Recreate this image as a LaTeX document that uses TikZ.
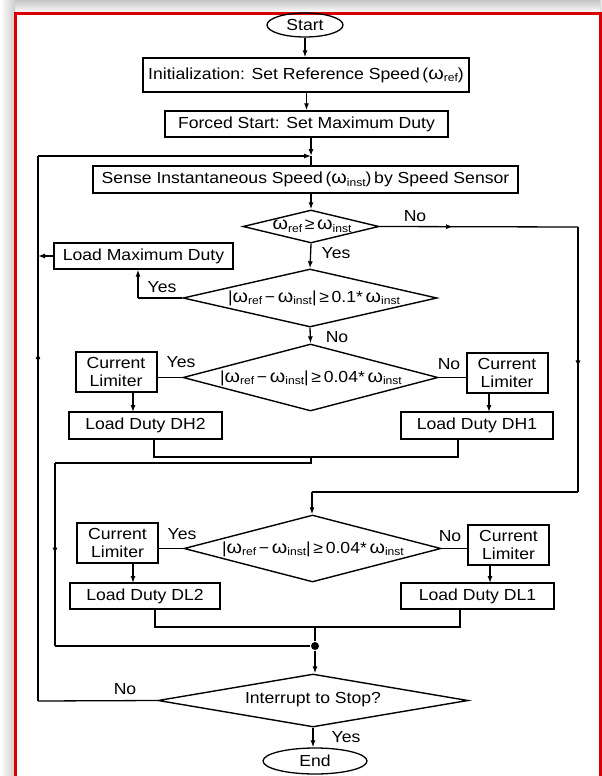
\documentclass[tikz,border=0pt]{standalone}
\usepackage{fontspec}
\setmainfont{Liberation Sans}[FakeStretch=1.1]
\usetikzlibrary{shapes.geometric,arrows.meta,decorations.markings,calc}
\newcommand{\lsub}[1]{\raisebox{-2.5pt}{\fontsize{11}{11}\selectfont #1}}
\newcommand{\om}{{\fontsize{18}{18}\selectfont ω}}
\newcommand{\wref}{\om\lsub{ref}}
\newcommand{\winst}{\om\lsub{inst}}
\begin{document}
\begin{tikzpicture}[x=1pt,y=-1pt,font=\fontsize{16}{18}\selectfont,line width=1.3pt,
  box/.style={draw,rectangle,inner sep=0pt,line width=1.4pt},
  clbox/.style={draw,rectangle,inner sep=0pt,line width=2pt,align=center,minimum width=81pt,minimum height=40pt},
  dia/.style={draw,diamond,inner sep=0pt,line width=1.4pt},
  term/.style={draw,ellipse,inner sep=0pt,line width=1.3pt},
  arr/.style={-{Latex[length=7pt,width=5pt]}},
  midarr/.style={postaction={decorate},decoration={markings,mark=at position #1 with {\arrow{Latex[length=7pt,width=5pt]}}}},
  lbl/.style={inner sep=0pt}
]
\useasboundingbox (0,0) rectangle (602,776);
\fill[white] (0,0) rectangle (602,776);
\shade[top color=gray!45,bottom color=white] (0,0) rectangle (602,13);
\shade[left color=white,right color=gray!40] (0,0) rectangle (15,776);
\shade[left color=gray!30,right color=white] (600,0) rectangle (602,776);
\draw[red!85!black,line width=2.4pt] (15.5,776) -- (15.5,13.5) -- (600.5,13.5) -- (600.5,776);

% nodes
\node[term,minimum width=76pt,minimum height=24pt] (start) at (305,25) {Start};
\node[box,minimum width=326pt,minimum height=34pt] (init) at (306,75) {Initialization: Set Reference Speed\,(\wref)};
\node[box,minimum width=283pt,minimum height=26pt] (forced) at (306.5,124) {Forced Start: Set Maximum Duty};
\node[box,minimum width=425pt,minimum height=27pt] (sense) at (305.5,179.5) {Sense Instantaneous Speed\,(\winst)\,by Speed Sensor};
\node[dia,minimum width=136pt,minimum height=33pt] (d1) at (311,226.5) {};
\node[lbl] (t1) at (312,226) {\wref\,≥\,\winst};
\node[box,minimum width=179pt,minimum height=26pt] (lmax) at (143.5,256) {Load Maximum Duty};
\node[dia,minimum width=254pt,minimum height=58pt] (d2) at (310,298) {};
\node[lbl] (t2) at (314,298) {|\wref\,−\,\winst|\,≥\,0.1*\,\winst};
\node[dia,minimum width=255pt,minimum height=67pt] (d3) at (310.5,377.5) {};
\node[lbl] (t3) at (311,378) {|\wref\,−\,\winst|\,≥\,0.04*\,\winst};
\node[clbox] (cl1) at (116,372) {Current\\Limiter};
\node[clbox] (cr1) at (507,373) {Current\\Limiter};
\node[box,minimum width=153pt,minimum height=27pt] (dh2) at (145.5,425.5) {Load Duty DH2};
\node[box,minimum width=152pt,minimum height=27pt] (dh1) at (477,425.5) {Load Duty DH1};
\node[dia,minimum width=257pt,minimum height=67pt] (d4) at (312.5,548.5) {};
\node[lbl] (t4) at (313,549) {|\wref\,−\,\winst|\,≥\,0.04*\,\winst};
\node[clbox] (cl2) at (117.5,543) {Current\\Limiter};
\node[clbox] (cr2) at (508.5,544.5) {Current\\Limiter};
\node[box,minimum width=150pt,minimum height=26pt] (dl2) at (145,596) {Load Duty DL2};
\node[box,minimum width=153pt,minimum height=26pt] (dl1) at (477.5,596) {Load Duty DL1};
\node[circle,fill,inner sep=0pt,minimum size=8pt] (dot) at (315,646) {};
\node[dia,minimum width=310pt,minimum height=53pt] (d5) at (313,700.5) {};
\node[lbl] (t5) at (313,700) {Interrupt to Stop?};
\node[term,minimum width=104pt,minimum height=26pt] (end) at (315,761) {End};

% labels
\node[lbl] (no1) at (415,216) {No};
\node[lbl] (yes1) at (336,253) {Yes};
\node[lbl] (yes2) at (162,287) {Yes};
\node[lbl] (no2) at (337,337) {No};
\node[lbl] (yes3) at (181,362) {Yes};
\node[lbl] (no3) at (449,364) {No};
\node[lbl] (yes4) at (182,534) {Yes};
\node[lbl] (no4) at (450,536) {No};
\node[lbl] (no5) at (125,689) {No};
\node[lbl] (yes5) at (346,737) {Yes};

% coordinates
\coordinate (j1) at (311,156);
\coordinate (lt) at (38,156);
\coordinate (lb) at (38,701);
\coordinate (rt) at (578,227);
\coordinate (rb) at (578,492);
\coordinate (rc) at (312,492);
\coordinate (ym) at (138,298);
\coordinate (h1) at (154,457);
\coordinate (h2) at (458,457);
\coordinate (h3) at (311,463);
\coordinate (h4) at (55,463);
\coordinate (h5) at (55,646);
\coordinate (l1) at (155,627);
\coordinate (l2) at (460,627);
\coordinate (l3) at (315,627);

% connectors
\draw[arr] (start.south) -- (start.south |- init.north);
\draw[arr] (init.south -| forced) -- (forced.north);
\draw[arr] (forced.south -| j1) -- (j1);
\draw (j1) -- (sense.north -| j1);
\draw[arr] (sense.south -| d1) -- (d1.north);
\draw[arr] (d1.south) -- (d2.north);
\draw[midarr=0.37] (d1.east) -- (rt);
\draw[midarr=0.53] (rt) -- (rb);
\draw (rb) -- (rc);
\draw[arr] (rc) -- (d4.north -| rc);
\draw (d2.west) -- (ym);
\draw[arr] (ym) -- (ym |- lmax.south);
\draw[arr] (lmax.west) -- (lmax.west -| lt);
\draw (d5.west) -- (lb);
\draw[midarr=0.64] (lb) -- (lt);
\draw[arr] (lt) -- (j1);
\draw[arr] (d2.south) -- (d3.north);
\draw (d3.west) -- (d3.west -| cl1.east);
\draw (d3.east) -- (d3.east -| cr1.west);
\draw[arr] (133,392) -- (133,412);
\draw[arr] (489,393) -- (489,412);
\draw (dh2.south -| h1) -- (h1) -- (h2) -- (dh1.south -| h2);
\draw (311,457) -- (h3) -- (h4);
\draw[midarr=0.5] (h4) -- (h5);
\draw (h5) -- (dot);
\draw (d4.west) -- (d4.west -| cl2.east);
\draw (d4.east) -- (d4.east -| cr2.west);
\draw[arr] (133,563) -- (133,583);
\draw[arr] (490,565) -- (490,583);
\draw (dl2.south -| l1) -- (l1) -- (l2) -- (dl1.south -| l2);
\draw (l3) -- (dot);
\draw[arr] (dot) -- (d5.north -| dot);
\draw[arr] (d5.south) -- (end.north -| d5.south);
\end{tikzpicture}
\end{document}
